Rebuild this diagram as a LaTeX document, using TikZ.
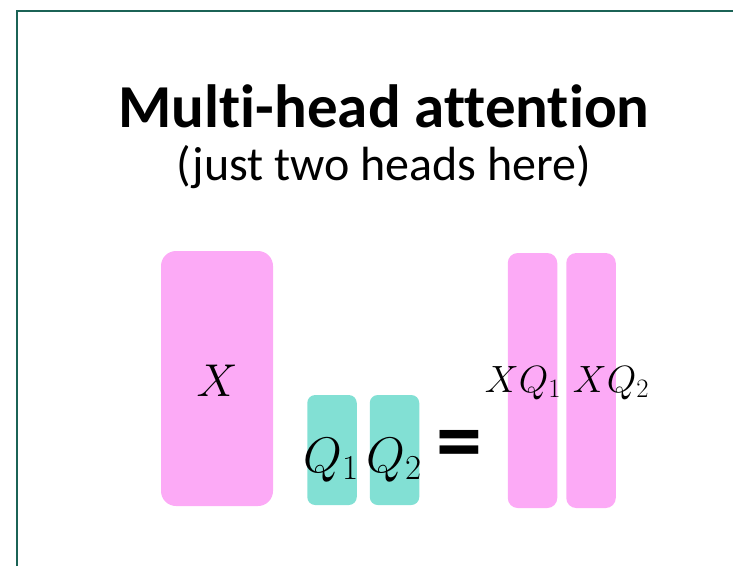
\RequirePackage{fix-cm}
\documentclass[tikz,border=0pt]{standalone}
\usepackage{fontspec}
\setmainfont{Carlito}[Ligatures=NoCommon]
\usetikzlibrary{positioning}
\definecolor{framegreen}{HTML}{1B6356}
\definecolor{matpink}{HTML}{FCAAF6}
\definecolor{matteal}{HTML}{82E0D4}

\begin{document}
\begin{tikzpicture}[x=1pt, y=-1pt,
  bigmat/.style={rounded corners=15pt, fill=matpink, inner sep=0pt,
    minimum width=112pt, minimum height=255pt},
  headmat/.style={rounded corners=8pt, fill=matteal, inner sep=0pt,
    minimum width=49.5pt, minimum height=110pt},
  outmat/.style={rounded corners=10pt, fill=matpink, inner sep=0pt,
    minimum width=49.5pt, minimum height=255pt},
  mathlbl/.style={anchor=base, inner sep=0pt, font=\fontsize{#1}{#1}\selectfont}
]
\useasboundingbox (0,0) rectangle (733,566);
\draw[framegreen, line width=2pt] (17,566) -- (17,11) -- (733,11);
% title
\node[anchor=base, inner sep=0pt, font=\fontsize{61}{72}\selectfont\bfseries] (title) at (384,127) {Multi-head attention};
\node[anchor=base, inner sep=0pt, font=\fontsize{48}{58}\selectfont] (subtitle) at (384,180) {(just two heads here)};
% input
\node[bigmat] (xbox) at (217,378.5) {};
\node[mathlbl=46] (xlbl) at (217,396) {$X$};
% heads
\node[headmat] (qonebox) at (332,450) {};
\node[headmat] (qtwobox) at (394.5,450) {};
\node[mathlbl=50] (qonelbl) at (331,472) {$Q_1$};
\node[mathlbl=50] (qtwolbl) at (394,472) {$Q_2$};
\node[anchor=center, inner sep=0pt, font=\fontsize{92}{92}\selectfont\bfseries] (eq) at (459,451) {=};
% outputs
\node[outmat] (xqonebox) at (532.5,380.5) {};
\node[outmat] (xqtwobox) at (591,380.5) {};
\node[mathlbl=38] (xqonelbl) at (523,392) {$XQ_1$};
\node[mathlbl=38] (xqtwolbl) at (611,392) {$XQ_2$};
\end{tikzpicture}
\end{document}
